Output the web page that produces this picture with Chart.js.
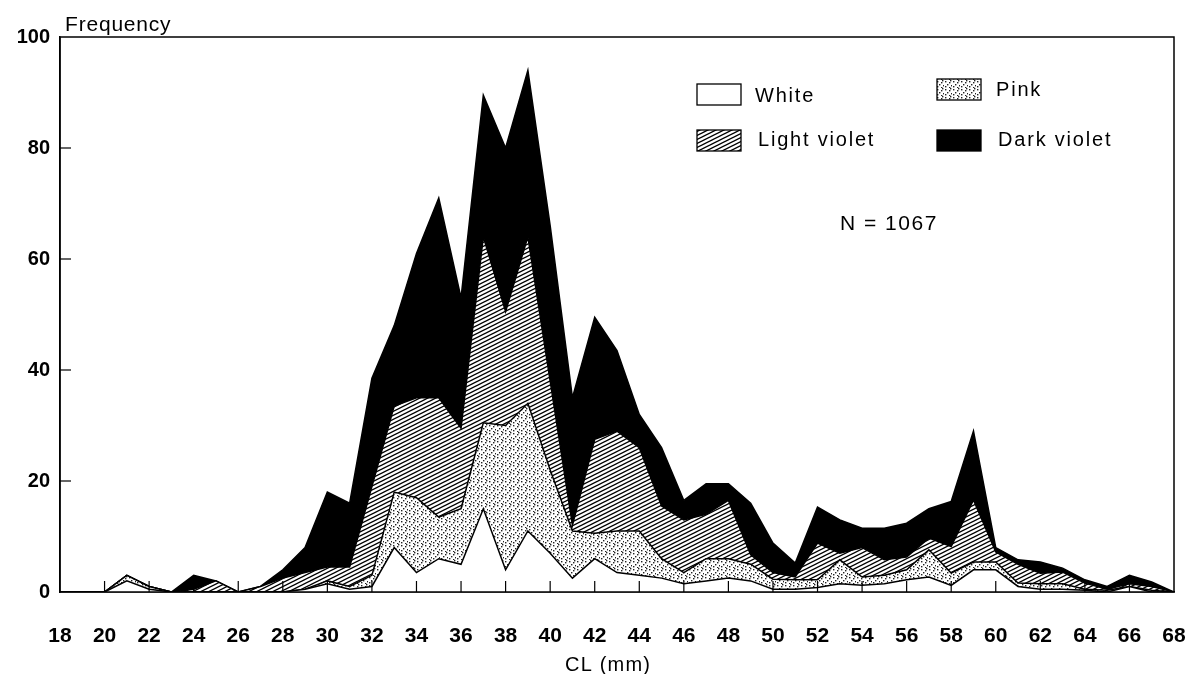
<!DOCTYPE html>
<html>
<head>
<meta charset="utf-8">
<title>Frequency by CL and colour</title>
<script src="https://cdn.jsdelivr.net/npm/chart.js@4.4.0/dist/chart.umd.min.js"></script>
<style>
    html, body { margin: 0; padding: 0; background: #fff; }
</style>
</head>
<body>
<canvas id="myChart" width="1191" height="674"></canvas>
<script>
// carapace length classes (mm)
var lengths = [18, 19, 20, 21, 22, 23, 24, 25, 26, 27, 28, 29, 30, 31, 32, 33, 34, 35, 36, 37, 38, 39, 40, 41, 42, 43,
    44, 45, 46, 47, 48, 49, 50, 51, 52, 53, 54, 55, 56, 57, 58, 59, 60, 61, 62, 63, 64, 65, 66, 67, 68];

// counts per colour, stacked bottom to top
var white = [0, 0, 0, 2, 0.5, 0, 0, 0, 0, 0, 0, 0.5, 1.5, 0.5, 1, 8, 3.5, 6, 5, 15, 4, 11, 7, 2.5, 6, 3.5,
    3, 2.5, 1.5, 2, 2.5, 2, 0.5, 0.5, 0.8, 1.5, 1.2, 1.5, 2.2, 2.7, 1.2, 4, 4, 1, 0.5, 0.5, 0.3, 0, 1, 0, 0];
var pink = [0, 0, 0, 1, 0.5, 0, 0, 0, 0, 0, 0, 0, 0.5, 0.5, 2, 10, 13.5, 7.5, 10, 15.5, 26, 23, 15, 8.5, 4.6, 7.5,
    8, 3.5, 2, 4, 3.5, 3, 1.8, 1.7, 1.4, 4.3, 1.5, 1.5, 1.8, 4.9, 2.2, 1.4, 1.4, 0.6, 1, 1, 0.2, 0.3, 0, 0.3, 0];
var lightViolet = [0, 0, 0, 0, 0, 0, 0.5, 2, 0, 1, 2.5, 3, 2.5, 3.5, 16, 15.5, 18, 21.5, 14.5, 33.5, 20.5, 30, 16, 1, 16.9, 18,
    15, 9.5, 9.5, 8, 10.5, 1.7, 1.2, 0.5, 6.6, 1.2, 5.3, 2.8, 2.3, 2.1, 4.8, 11.2, 1.8, 3.4, 1.9, 2.1, 1.1, 0.2, 0.5, 0.7, 0];
var darkViolet = [0, 0, 0, 0, 0, 0, 2.5, 0, 0, 0, 1.5, 4.5, 13.5, 11.5, 19.5, 14.5, 26, 36, 23.5, 25.5, 29.5, 30, 28, 23, 22, 14.5,
    6, 10.5, 3.5, 5.5, 3, 9.3, 5.3, 2.5, 6.5, 6, 3.5, 5.7, 6.1, 5.3, 8.1, 12.4, 0.8, 0.8, 2, 0.7, 0.6, 0.5, 1.5, 0.8, 0];

var seriesNames = ['White', 'Pink', 'Light violet', 'Dark violet'];
var yTicks = [0, 20, 40, 60, 80, 100];

var FONT = "'Liberation Sans', Arial, sans-serif";

// fill patterns
function makeStipple() {
    var c = document.createElement('canvas');
    c.width = 8; c.height = 8;
    var g = c.getContext('2d');
    g.fillStyle = '#fff';
    g.fillRect(0, 0, 8, 8);
    g.fillStyle = '#222';
    var dots = [[1, 1], [5, 2], [3, 4], [7, 5], [1, 6], [5, 7], [6, 0]];
    dots.forEach(function (d) { g.fillRect(d[0], d[1], 1.4, 1.4); });
    return g.createPattern(c, 'repeat');
}

function makeHatch() {
    var c = document.createElement('canvas');
    c.width = 8; c.height = 4;
    var g = c.getContext('2d');
    g.fillStyle = '#fff';
    g.fillRect(0, 0, 8, 4);
    g.strokeStyle = '#000';
    g.lineWidth = 1.3;
    for (var k = -1; k <= 1; k++) {
        g.beginPath();
        g.moveTo(-1, 4.5 + 4 * k);
        g.lineTo(9, -0.5 + 4 * k);
        g.stroke();
    }
    return g.createPattern(c, 'repeat');
}

var fills = ['#ffffff', makeStipple(), makeHatch(), '#000000'];

function points(values) {
    return lengths.map(function (l, i) { return { x: l, y: values[i] }; });
}

function spacedText(ctx, text, x, y, spacing) {
    if ('letterSpacing' in ctx) {
        ctx.letterSpacing = spacing + 'px';
        ctx.fillText(text, x, y);
        ctx.letterSpacing = '0px';
    } else {
        ctx.fillText(text, x, y);
    }
}

// frame, inward ticks, labels, legend
var decorations = {
    id: 'decorations',
    afterDatasetsDraw: function (chart) {
        var ctx = chart.ctx;
        var a = chart.chartArea;
        var xs = chart.scales.x, ys = chart.scales.y;
        ctx.save();
        ctx.strokeStyle = '#000';
        ctx.lineWidth = 1.5;
        ctx.strokeRect(a.left, a.top, a.right - a.left, a.bottom - a.top);

        ctx.lineWidth = 1.2;
        for (var v = 20; v <= 66; v += 2) {
            var px = xs.getPixelForValue(v);
            ctx.beginPath();
            ctx.moveTo(px, a.bottom);
            ctx.lineTo(px, a.bottom - 11);
            ctx.stroke();
        }
        yTicks.forEach(function (t) {
            if (t === 0 || t === 100) return;
            var py = ys.getPixelForValue(t);
            ctx.beginPath();
            ctx.moveTo(a.left, py);
            ctx.lineTo(a.left + 11, py);
            ctx.stroke();
        });

        ctx.fillStyle = '#000';
        ctx.textBaseline = 'alphabetic';
        ctx.textAlign = 'left';
        ctx.font = '21px ' + FONT;
        spacedText(ctx, 'Frequency', a.left + 5, 31, 0.8);
        spacedText(ctx, 'N = 1067', 840, 230, 1.5);
        ctx.font = '20px ' + FONT;
        spacedText(ctx, 'CL (mm)', 565, 671, 1.2);

        var boxes = [
            { x: 697, y: 84, tx: 755, ty: 96 },
            { x: 937, y: 79, tx: 996, ty: 90 },
            { x: 697, y: 130, tx: 758, ty: 140 },
            { x: 937, y: 130, tx: 998, ty: 140 }
        ];
        ctx.textBaseline = 'middle';
        ctx.font = '20px ' + FONT;
        boxes.forEach(function (b, i) {
            ctx.fillStyle = fills[i];
            ctx.fillRect(b.x, b.y, 44, 21);
            ctx.lineWidth = 1.3;
            ctx.strokeRect(b.x, b.y, 44, 21);
            ctx.fillStyle = '#000';
            spacedText(ctx, seriesNames[i], b.tx, b.ty, 1.8);
        });
        ctx.restore();
    }
};

var ctx = document.getElementById('myChart').getContext('2d');
var layers = [white, pink, lightViolet, darkViolet];

var chart = new Chart(ctx, {
    type: 'line',
    data: {
        datasets: layers.map(function (vals, i) {
            return {
                label: seriesNames[i],
                data: points(vals),
                backgroundColor: fills[i],
                borderColor: '#000',
                borderWidth: 1.5,
                pointRadius: 0,
                tension: 0,
                fill: i === 0 ? 'origin' : '-1'
            };
        })
    },
    options: {
        responsive: false,
        animation: false,
        devicePixelRatio: 1,
        layout: { padding: { top: 37, right: 17, left: 0, bottom: 0 } },
        plugins: {
            legend: { display: false },
            tooltip: { enabled: false }
        },
        scales: {
            x: {
                type: 'linear',
                min: 18,
                max: 68,
                afterFit: function (s) {
                    s.height = 82;
                    s.paddingLeft = 0;
                    s.paddingRight = 0;
                },
                grid: { display: false, drawTicks: false },
                border: { display: true, color: '#000', width: 1.5 },
                ticks: {
                    stepSize: 2,
                    color: '#000',
                    padding: 32,
                    maxRotation: 0,
                    autoSkip: false,
                    font: { family: FONT, size: 21, weight: 'bold' }
                }
            },
            y: {
                stacked: true,
                min: 0,
                max: 100,
                afterFit: function (s) {
                    s.width = 60;
                    s.paddingTop = 0;
                    s.paddingBottom = 0;
                },
                grid: { display: false, drawTicks: false },
                border: { display: true, color: '#000', width: 1.5 },
                ticks: {
                    stepSize: 20,
                    color: '#000',
                    padding: 10,
                    font: { family: FONT, size: 20, weight: 'bold' }
                }
            }
        }
    },
    plugins: [decorations]
});
</script>
</body>
</html>
